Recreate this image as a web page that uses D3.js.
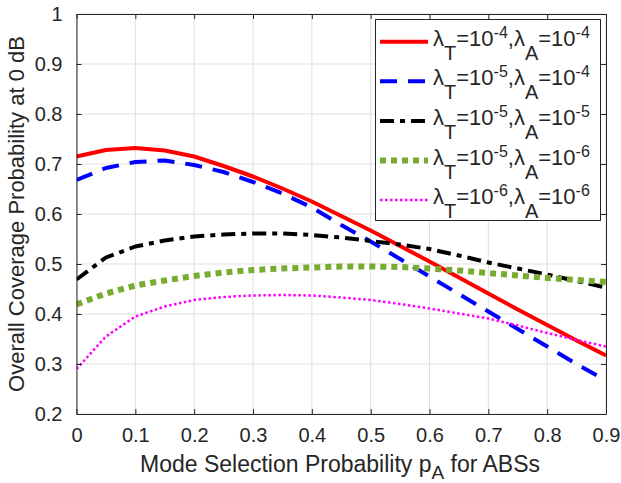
<!DOCTYPE html>
<html>
<head>
<meta charset="utf-8">
<script src="https://cdn.jsdelivr.net/npm/d3@7"></script>
<style>
  body { margin: 0; background: #fff; }
  text { font-family: "Liberation Sans", Arial, Helvetica, sans-serif; fill: #262626; }
</style>
</head>
<body>
<div id="chart"></div>
<script>
// mode selection probability for ABSs
var pA = [0, 0.05, 0.1, 0.15, 0.2, 0.25, 0.3, 0.35, 0.4, 0.45, 0.5, 0.55, 0.6, 0.65, 0.7, 0.75, 0.8, 0.85, 0.9];

var cov_T4_A4 = [0.715, 0.728, 0.732, 0.727, 0.715, 0.696, 0.675, 0.651, 0.625, 0.596, 0.567, 0.536, 0.505, 0.473, 0.441, 0.409, 0.378, 0.347, 0.317];
var cov_T5_A4 = [0.668, 0.692, 0.704, 0.707, 0.698, 0.684, 0.664, 0.641, 0.613, 0.578, 0.545, 0.510, 0.475, 0.440, 0.405, 0.370, 0.335, 0.300, 0.267];
var cov_T5_A5 = [0.469, 0.513, 0.535, 0.547, 0.555, 0.559, 0.561, 0.561, 0.558, 0.553, 0.546, 0.539, 0.530, 0.517, 0.503, 0.491, 0.479, 0.466, 0.453];
var cov_T5_A6 = [0.419, 0.441, 0.457, 0.467, 0.476, 0.483, 0.488, 0.491, 0.493, 0.495, 0.495, 0.494, 0.491, 0.487, 0.482, 0.477, 0.472, 0.468, 0.464];
var cov_T6_A6 = [0.290, 0.355, 0.395, 0.415, 0.428, 0.434, 0.437, 0.438, 0.437, 0.433, 0.428, 0.420, 0.411, 0.401, 0.391, 0.377, 0.362, 0.348, 0.335];

var expT = ['-4', '-5', '-5', '-5', '-6'];
var expA = ['-4', '-4', '-5', '-6', '-6'];

var xTicks = [0, 0.1, 0.2, 0.3, 0.4, 0.5, 0.6, 0.7, 0.8, 0.9];
var yTicks = [0.2, 0.3, 0.4, 0.5, 0.6, 0.7, 0.8, 0.9, 1];

var width = 621, height = 483;
var x_left = 76.5, x_right = 606, y_top = 14, y_bottom = 414;
var axisColor = '#262626';

var svg = d3.select('#chart').append('svg')
    .attr('width', width)
    .attr('height', height);

var x = d3.scaleLinear().domain([0, 0.9]).range([x_left, x_right]);
var y = d3.scaleLinear().domain([0.2, 1]).range([y_bottom, y_top]);

// grid
svg.append('g').selectAll('line').data(xTicks).enter().append('line')
    .attr('x1', function (d) { return x(d); }).attr('x2', function (d) { return x(d); })
    .attr('y1', y_top).attr('y2', y_bottom)
    .style('stroke', '#dfdfdf').style('stroke-width', '1px');
svg.append('g').selectAll('line').data(yTicks).enter().append('line')
    .attr('x1', x_left).attr('x2', x_right)
    .attr('y1', function (d) { return y(d); }).attr('y2', function (d) { return y(d); })
    .style('stroke', '#dfdfdf').style('stroke-width', '1px');

// curves
var series = [
    { vals: cov_T4_A4, color: '#ff0000', w: 4, dash: null },
    { vals: cov_T5_A4, color: '#0000ff', w: 4, dash: '17,11' },
    { vals: cov_T5_A5, color: '#000000', w: 4, dash: '14,6,5,6' },
    { vals: cov_T5_A6, color: '#77ac30', w: 6, dash: '6,5' },
    { vals: cov_T6_A6, color: '#ff00ff', w: 2.5, dash: '2.5,2.5' }
];

svg.append('clipPath').attr('id', 'clip').append('rect')
    .attr('x', x_left).attr('y', y_top)
    .attr('width', x_right - x_left).attr('height', y_bottom - y_top);

var line = d3.line()
    .x(function (d) { return x(d[0]); })
    .y(function (d) { return y(d[1]); });

var plot = svg.append('g').attr('clip-path', 'url(#clip)');
series.forEach(function (s) {
    plot.append('path')
        .datum(pA.map(function (p, i) { return [p, s.vals[i]]; }))
        .attr('d', line)
        .attr('fill', 'none')
        .style('stroke', s.color)
        .style('stroke-width', s.w + 'px')
        .style('stroke-dasharray', s.dash)
        .style('stroke-linejoin', 'round');
});

// axes (box with inward ticks on all sides)
var xAxisB = d3.axisBottom(x).tickValues(xTicks).tickSizeInner(-5).tickSizeOuter(0).tickFormat(d3.format('~g')).tickPadding(14);
var xAxisT = d3.axisTop(x).tickValues(xTicks).tickSizeInner(-5).tickSizeOuter(0).tickFormat('');
var yAxisL = d3.axisLeft(y).tickValues(yTicks).tickSizeInner(-5).tickSizeOuter(0).tickFormat(d3.format('~g')).tickPadding(14);
var yAxisR = d3.axisRight(y).tickValues(yTicks).tickSizeInner(-5).tickSizeOuter(0).tickFormat('');

function styleAxis(g) {
    g.select('.domain').style('stroke', axisColor).style('stroke-width', '1px');
    g.selectAll('.tick line').style('stroke', axisColor);
    g.selectAll('.tick text').style('font-size', '20px').style('fill', axisColor)
        .style('font-family', '"Liberation Sans", Arial, sans-serif');
}
svg.append('g').attr('transform', 'translate(0,' + y_bottom + ')').call(xAxisB).call(styleAxis);
svg.append('g').attr('transform', 'translate(0,' + y_top + ')').call(xAxisT).call(styleAxis);
svg.append('g').attr('transform', 'translate(' + x_left + ',0)').call(yAxisL).call(styleAxis);
svg.append('g').attr('transform', 'translate(' + x_right + ',0)').call(yAxisR).call(styleAxis);

// axis labels
var xl = svg.append('text')
    .attr('x', 340)
    .attr('y', 472)
    .attr('text-anchor', 'middle')
    .style('font-size', '23px');
xl.append('tspan').text('Mode Selection Probability p');
xl.append('tspan').attr('dy', 7).style('font-size', '19px').text('A');
xl.append('tspan').attr('dy', -7).text(' for ABSs');

svg.append('text')
    .attr('transform', 'translate(24,' + ((y_top + y_bottom) / 2) + ') rotate(-90)')
    .attr('text-anchor', 'middle')
    .style('font-size', '22px')
    .text('Overall Coverage Probability at 0 dB');

// legend
var lg = svg.append('g');
lg.append('rect')
    .attr('x', 375.5).attr('y', 19.5)
    .attr('width', 225).attr('height', 201)
    .attr('fill', '#fff')
    .style('stroke', axisColor).style('stroke-width', '1px');

series.forEach(function (s, i) {
    var ry = 41.7 + i * 39.6;
    lg.append('line')
        .attr('x1', 380).attr('x2', 428)
        .attr('y1', ry).attr('y2', ry)
        .style('stroke', s.color)
        .style('stroke-width', s.w + 'px')
        .style('stroke-dasharray', s.dash);
    var base = ry + 4;
    var t = lg.append('text').attr('x', 433).attr('y', base).style('font-size', '22px');
    t.append('tspan').text('\u03bb');
    t.append('tspan').attr('y', base + 14).style('font-size', '20px').text('T');
    t.append('tspan').attr('y', base).text('=10');
    t.append('tspan').attr('y', base - 8).style('font-size', '16px').text(expT[i]);
    t.append('tspan').attr('y', base).text(',\u03bb');
    t.append('tspan').attr('y', base + 14).style('font-size', '20px').text('A');
    t.append('tspan').attr('y', base).text('=10');
    t.append('tspan').attr('y', base - 8).style('font-size', '16px').text(expA[i]);
});
</script>
</body>
</html>
